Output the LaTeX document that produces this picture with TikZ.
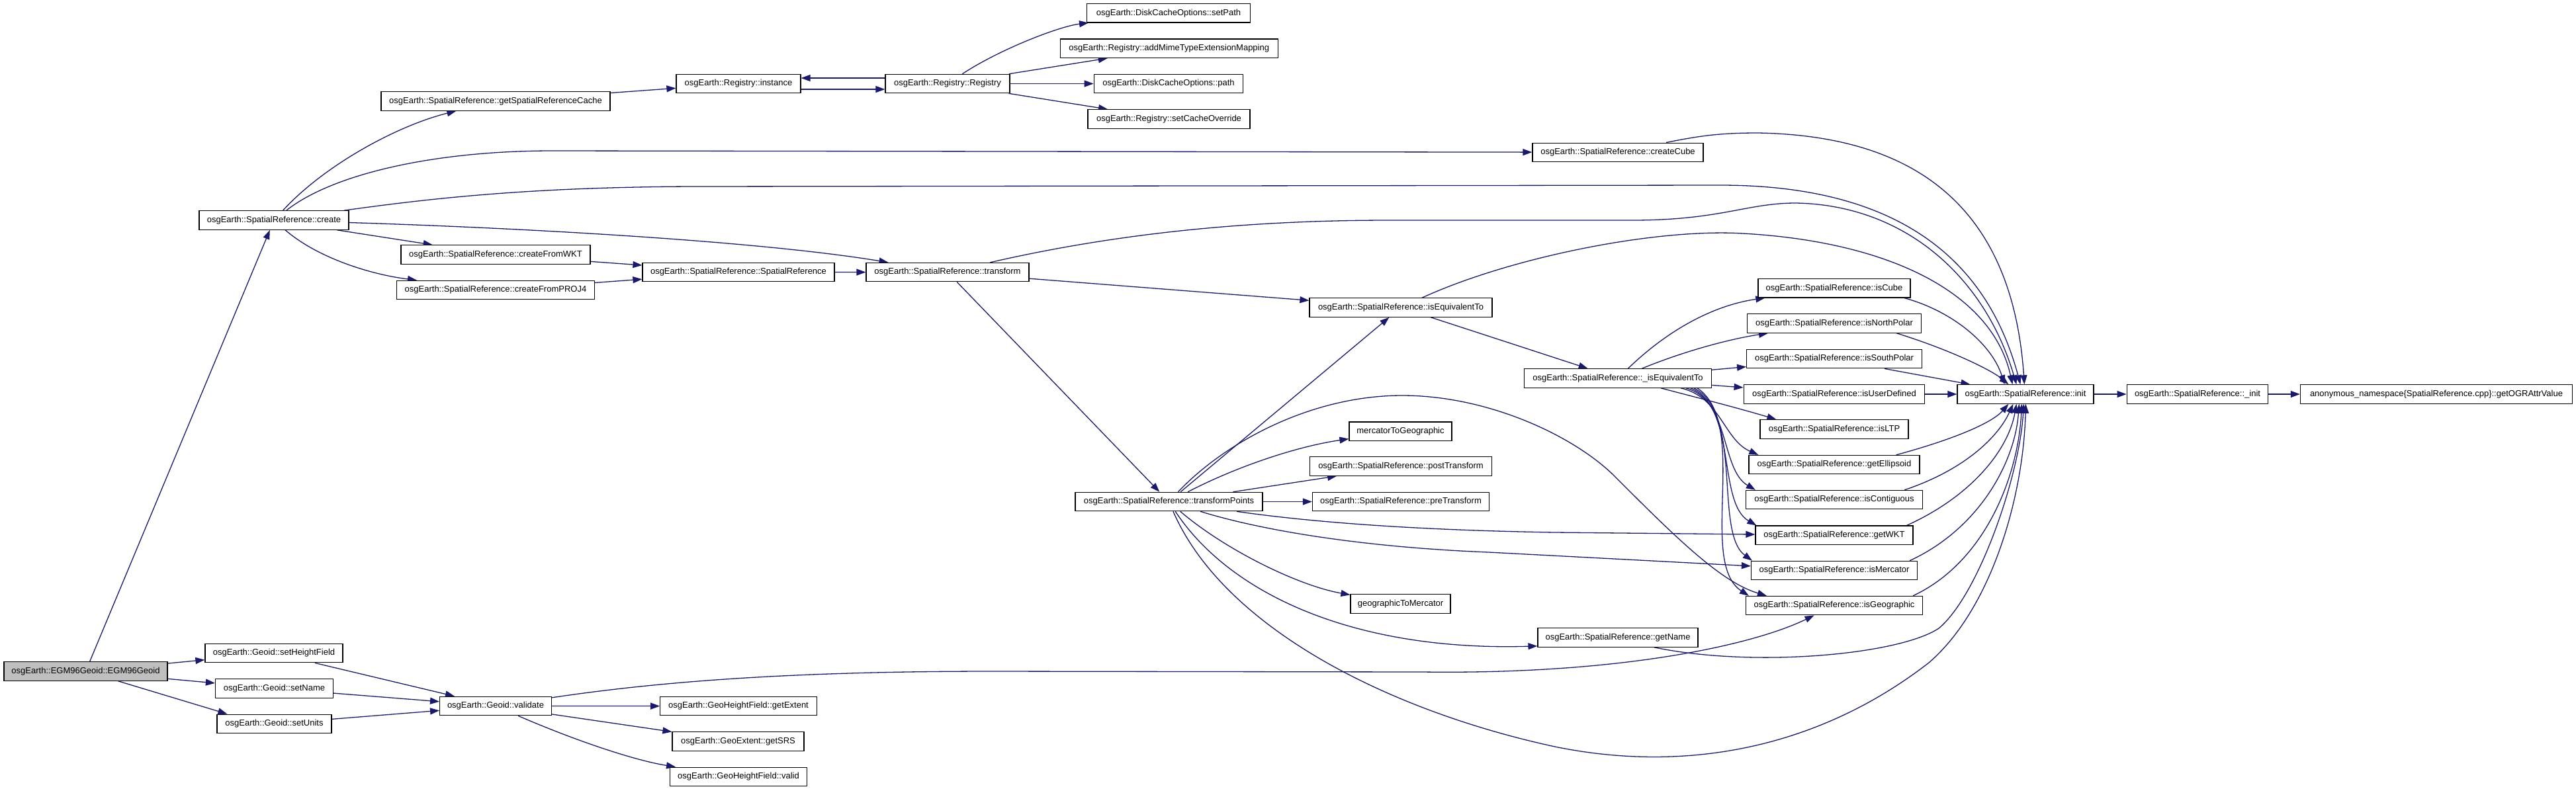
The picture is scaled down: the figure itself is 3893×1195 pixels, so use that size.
\documentclass[tikz,border=0pt]{standalone}
\usepackage{fontspec}
\setmainfont{Liberation Sans}
\usetikzlibrary{arrows.meta,calc}
\pgfdeclarelayer{bg}
\pgfsetlayers{bg,main}
\definecolor{edgeblue}{HTML}{191970}
\definecolor{rootgray}{HTML}{BFBFBF}
\tikzset{
  box/.style={draw=black, line width=1.2pt, fill=white, minimum height=28.4pt,
    inner xsep=0pt, inner ysep=0pt, font=\fontsize{13}{15}\selectfont},
  edge/.style={draw=edgeblue, line width=1.3pt, -{Triangle[length=14pt,width=10pt]}},
}
\begin{document}
\begin{tikzpicture}[x=1pt,y=-1pt]
\useasboundingbox (0,0) rectangle (3893,1195);
\begin{pgfonlayer}{bg}
\fill[white] (0,0) rectangle (3893,1195);
\end{pgfonlayer}
% nodes
\node[box,minimum width=247pt,fill=rootgray] (egm) at (129.5,1015) {osgEarth::EGM96Geoid::EGM96Geoid};
\node[box,minimum width=226pt] (create) at (414,333) {osgEarth::SpatialReference::create};
\node[box,minimum width=346pt] (getSRC) at (749,153) {osgEarth::SpatialReference::getSpatialReferenceCache};
\node[box,minimum width=188pt] (instance) at (1116,126.5) {osgEarth::Registry::instance};
\node[box,minimum width=188pt] (registry) at (1432,126.5) {osgEarth::Registry::Registry};
\node[box,minimum width=247pt] (setPath) at (1766,19.7) {osgEarth::DiskCacheOptions::setPath};
\node[box,minimum width=329pt] (addMime) at (1766.7,73.2) {osgEarth::Registry::addMimeTypeExtensionMapping};
\node[box,minimum width=225.5pt] (path) at (1766,126.5) {osgEarth::DiskCacheOptions::path};
\node[box,minimum width=245pt] (setCache) at (1766.5,180) {osgEarth::Registry::setCacheOverride};
\node[box,minimum width=258pt] (createCube) at (2445,230.3) {osgEarth::SpatialReference::createCube};
\node[box,minimum width=286pt] (fromWKT) at (749,385) {osgEarth::SpatialReference::createFromWKT};
\node[box,minimum width=299pt] (fromPROJ) at (749,438.5) {osgEarth::SpatialReference::createFromPROJ4};
\node[box,minimum width=290pt] (spatialRef) at (1116,411.5) {osgEarth::SpatialReference::SpatialReference};
\node[box,minimum width=246pt] (transform) at (1432,411.6) {osgEarth::SpatialReference::transform};
\node[box,minimum width=276pt] (isEquiv) at (2117,465) {osgEarth::SpatialReference::isEquivalentTo};
\node[box,minimum width=283pt] (tPoints) at (1766.5,758.5) {osgEarth::SpatialReference::transformPoints};
\node[box,minimum width=155pt] (merc2geo) at (2116.5,652.2) {mercatorToGeographic};
\node[box,minimum width=274.6pt] (postT) at (2117,705) {osgEarth::SpatialReference::postTransform};
\node[box,minimum width=267pt] (preT) at (2117,758.5) {osgEarth::SpatialReference::preTransform};
\node[box,minimum width=151pt] (geo2merc) at (2116.5,913) {geographicToMercator};
\node[box,minimum width=242pt] (getName) at (2445,964) {osgEarth::SpatialReference::getName};
\node[box,minimum width=283pt] (isEquivB) at (2445,572) {osgEarth::SpatialReference::\_isEquivalentTo};
\node[box,minimum width=230pt] (isCube) at (2772,435.7) {osgEarth::SpatialReference::isCube};
\node[box,minimum width=263.6pt] (isNorth) at (2772,489) {osgEarth::SpatialReference::isNorthPolar};
\node[box,minimum width=264.7pt] (isSouth) at (2772,542.6) {osgEarth::SpatialReference::isSouthPolar};
\node[box,minimum width=273.7pt] (isUser) at (2772,596) {osgEarth::SpatialReference::isUserDefined};
\node[box,minimum width=224pt] (isLTP) at (2772,649) {osgEarth::SpatialReference::isLTP};
\node[box,minimum width=258pt] (getEll) at (2772,702.6) {osgEarth::SpatialReference::getEllipsoid};
\node[box,minimum width=267pt] (isContig) at (2772,755.6) {osgEarth::SpatialReference::isContiguous};
\node[box,minimum width=238pt] (getWKT) at (2772,809.2) {osgEarth::SpatialReference::getWKT};
\node[box,minimum width=251pt] (isMerc) at (2772,862.5) {osgEarth::SpatialReference::isMercator};
\node[box,minimum width=267pt] (isGeo) at (2772,915.6) {osgEarth::SpatialReference::isGeographic};
\node[box,minimum width=206pt] (init) at (3061,596) {osgEarth::SpatialReference::init};
\node[box,minimum width=213.5pt] (initB) at (3321,596) {osgEarth::SpatialReference::\_init};
\node[box,minimum width=411pt] (getOGR) at (3682,596) {anonymous\_namespace\{SpatialReference.cpp\}::getOGRAttrValue};
\node[box,minimum width=208pt] (setHF) at (414,987.6) {osgEarth::Geoid::setHeightField};
\node[box,minimum width=178pt] (setName) at (414.5,1041) {osgEarth::Geoid::setName};
\node[box,minimum width=173pt] (setUnits) at (414.5,1094.3) {osgEarth::Geoid::setUnits};
\node[box,minimum width=168.7pt] (validate) at (749,1067.5) {osgEarth::Geoid::validate};
\node[box,minimum width=236.5pt] (getExtent) at (1116,1067.6) {osgEarth::GeoHeightField::getExtent};
\node[box,minimum width=199pt] (getSRS) at (1115.5,1121) {osgEarth::GeoExtent::getSRS};
\node[box,minimum width=207pt] (valid) at (1116,1174.3) {osgEarth::GeoHeightField::valid};
% edges
\begin{pgfonlayer}{bg}
\draw[edge] (egm) -- (create);
\draw[edge] (egm) -- (setHF);
\draw[edge] (egm) -- (setName);
\draw[edge] (egm) -- ($(setUnits.north west)+(16,0)$);
\draw[edge] (setHF) -- (validate);
\draw[edge] (setName) -- (validate);
\draw[edge] (setUnits) -- (validate);
\draw[edge] (validate) -- (getExtent);
\draw[edge] (validate) -- (getSRS);
\draw[edge] (validate) .. controls (870,1120) and (960,1150) .. (valid);
\draw[edge] (validate) .. controls (1000,1030) and (1200,1015) .. (1500,1015) -- (2150,1016) .. controls (2450,1020) and (2650,975) .. (isGeo);
% create
\draw[edge] (create) .. controls (490,250) and (600,190) .. (getSRC);
\draw[edge] (create) .. controls (500,265) and (650,228) .. (835,228) -- (createCube);
\draw[edge] (create) .. controls (650,300) and (800,283) .. (1045,282) -- (2600,280) .. controls (2900,280) and (3010,420) .. ($(init.north west)+(96,0)$);
\draw[edge] (create) .. controls (800,345) and (1150,365) .. (transform);
\draw[edge] (create) -- (fromWKT);
\draw[edge] (create) .. controls (480,390) and (560,415) .. (fromPROJ);
\draw[edge] (fromWKT) -- (spatialRef);
\draw[edge] (fromPROJ) -- (spatialRef);
\draw[edge] (spatialRef) -- (transform);
\draw[edge] (transform) -- (isEquiv);
\draw[edge] (transform) -- (tPoints);
\draw[edge] (transform) .. controls (1700,350) and (1900,333) .. (2100,333) -- (2467,333) .. controls (2600,333) and (2640,307) .. (2714,307) .. controls (2880,310) and (3000,420) .. ($(init.north west)+(90,0)$);
% registry
\draw[edge] (getSRC) -- (instance);
\draw[edge] ($(instance.east)+(0,8.5)$) -- ($(registry.west)+(0,8.5)$);
\draw[edge] ($(registry.west)+(0,-8.5)$) -- ($(instance.east)+(0,-8.5)$);
\draw[edge] (registry) .. controls (1510,75) and (1600,40) .. (setPath);
\draw[edge] (registry) -- (addMime);
\draw[edge] (registry) -- (path);
\draw[edge] (registry) -- (setCache);
% createCube, isEquivalentTo
\draw[edge] (createCube) .. controls (2570,205) and (2600,201) .. (2657,201) .. controls (2880,205) and (3040,300) .. ($(init.north west)+(102,0)$);
\draw[edge] (isEquiv) .. controls (2280,390) and (2500,345) .. (2634,353) .. controls (2850,365) and (3010,440) .. ($(init.north west)+(84,0)$);
\draw[edge] (isEquiv) -- (isEquivB);
% transformPoints
\draw[edge] (tPoints) -- (isEquiv);
\draw[edge] (tPoints) .. controls (1850,670) and (1980,598) .. (2119,598) .. controls (2250,598) and (2380,660) .. (2440,720) .. controls (2530,810) and (2600,880) .. ($(isGeo.north west)+(32,0)$);
\draw[edge] (tPoints) .. controls (1870,705) and (1960,675) .. (merc2geo);
\draw[edge] (tPoints) -- (postT);
\draw[edge] (tPoints) -- (preT);
\draw[edge] (tPoints) .. controls (1950,785) and (2100,801) .. (2350,805) -- (getWKT);
\draw[edge] (tPoints) .. controls (1900,800) and (2050,827) .. (2250,835) -- (isMerc);
\draw[edge] (tPoints) .. controls (1850,830) and (1960,885) .. (geo2merc);
\draw[edge] (tPoints) .. controls (1860,900) and (2050,985) .. ($(getName.south west)+(0,-2)$);
\draw[edge] (tPoints) .. controls (1850,950) and (2100,1075) .. (2350,1129) .. controls (2550,1170) and (2750,1130) .. (2915,1002) .. controls (3010,920) and (3058,750) .. ($(init.south west)+(104,0)$);
\draw[edge] ($(getName.south)+(55,0)$) .. controls (2650,1010) and (2870,990) .. (2930,950) .. controls (2990,900) and (3052,720) .. ($(init.south west)+(101,0)$);
% _isEquivalentTo
\draw[edge] (isEquivB) .. controls (2530,490) and (2600,460) .. (isCube);
\draw[edge] (isEquivB) .. controls (2560,525) and (2630,510) .. (isNorth);
\draw[edge] (isEquivB) -- (isSouth);
\draw[edge] (isEquivB) -- (isUser);
\draw[edge] ($(isEquivB.south)+(65,0)$) .. controls (2560,600) and (2620,615) .. ($(isLTP.north west)+(25,0)$);
\draw[edge] ($(isEquivB.south)+(95,0)$) .. controls (2600,600) and (2605,665) .. ($(getEll.north west)+(15,0)$);
\draw[edge] ($(isEquivB.south)+(103,0)$) .. controls (2615,605) and (2600,710) .. ($(isContig.north west)+(15,0)$);
\draw[edge] ($(isEquivB.south)+(110,0)$) .. controls (2625,615) and (2595,760) .. ($(getWKT.north west)+(2,0)$);
\draw[edge] ($(isEquivB.south)+(115,0)$) .. controls (2635,625) and (2590,805) .. ($(isMerc.north west)+(2,0)$);
\draw[edge] ($(isEquivB.south)+(120,0)$) .. controls (2645,640) and (2565,850) .. ($(isGeo.north west)+(5,0)$);
% to init
\draw[edge] ($(isCube.south east)+(-10,0)$) .. controls (2950,470) and (3010,520) .. ($(init.north west)+(72,0)$);
\draw[edge] ($(isNorth.south east)+(-38,0)$) .. controls (2950,530) and (3010,560) .. ($(init.north west)+(78,0)$);
\draw[edge] ($(isSouth.south east)+(-57,0)$) -- ($(init.north west)+(20,0)$);
\draw[edge] (isUser) -- (init);
\draw[edge] ($(getEll.north east)+(-36,0)$) .. controls (2950,665) and (3010,640) .. ($(init.south west)+(78,0)$);
\draw[edge] ($(isContig.north east)+(-28,0)$) .. controls (2970,710) and (3020,660) .. ($(init.south west)+(85,0)$);
\draw[edge] ($(getWKT.north east)+(-10,0)$) .. controls (2980,750) and (3035,680) .. ($(init.south west)+(90,0)$);
\draw[edge] ($(isMerc.north east)+(-12,0)$) .. controls (2990,800) and (3045,700) .. ($(init.south west)+(94,0)$);
\draw[edge] ($(isGeo.north east)+(-15,0)$) .. controls (3000,850) and (3050,720) .. ($(init.south west)+(98,0)$);
\draw[edge] (init) -- (initB);
\draw[edge] (initB) -- (getOGR);
\end{pgfonlayer}
\end{tikzpicture}
\end{document}
